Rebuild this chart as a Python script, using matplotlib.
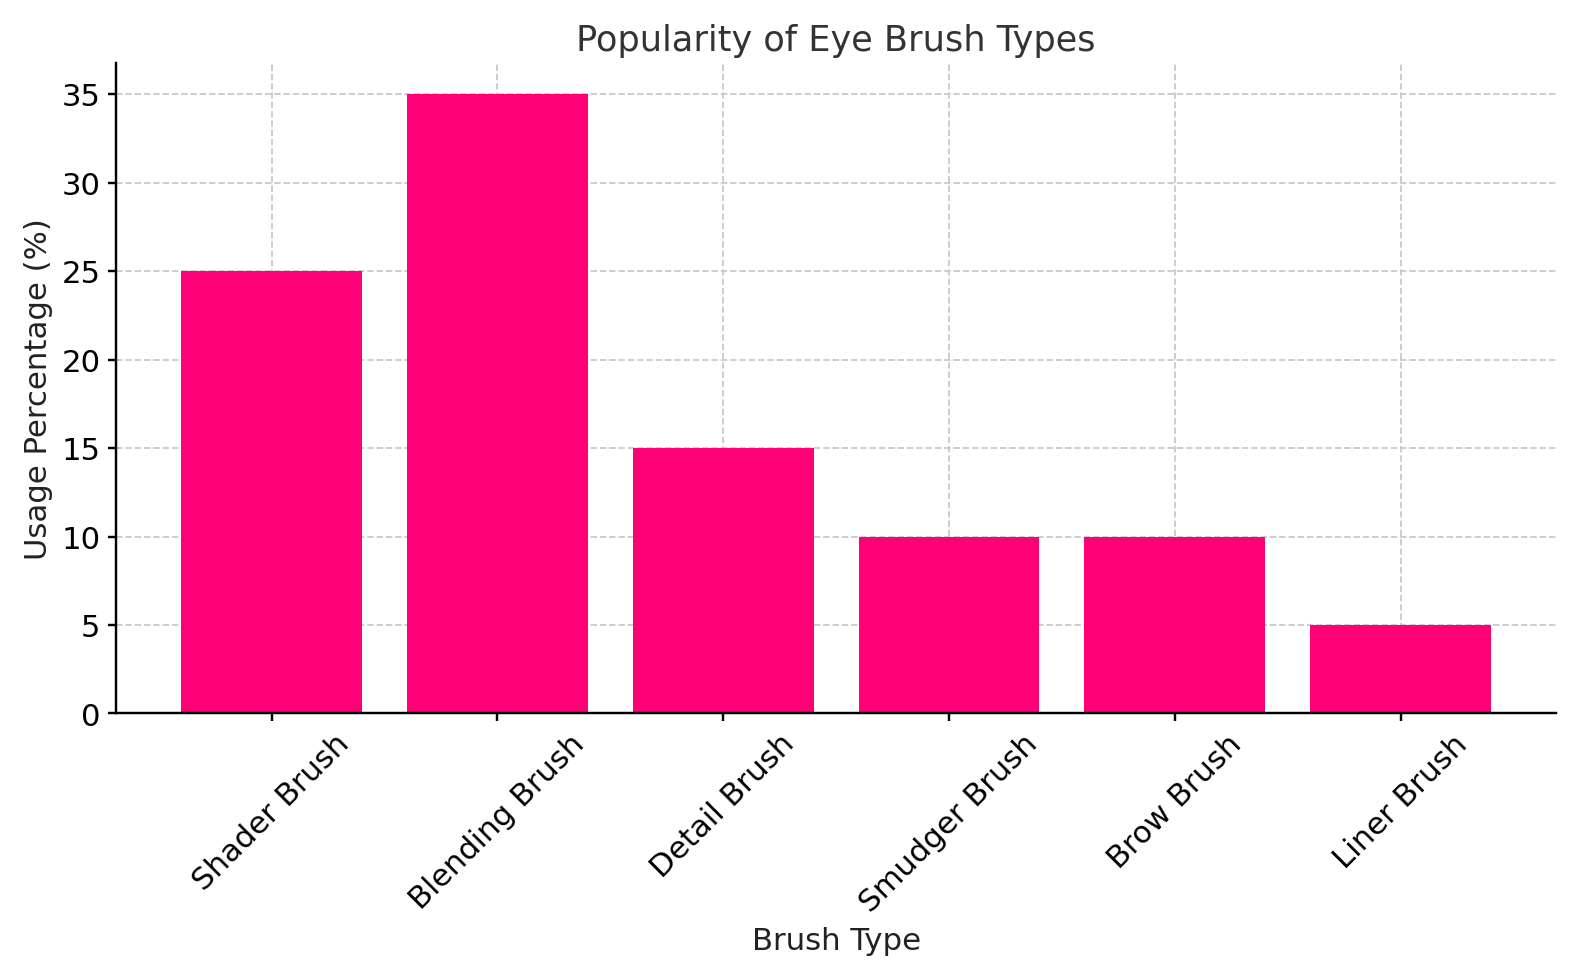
import matplotlib
matplotlib.use("Agg")
import matplotlib.pyplot as plt

brush_types = ["Shader Brush", "Blending Brush", "Detail Brush",
               "Smudger Brush", "Brow Brush", "Liner Brush"]
usage_pct = [25, 35, 15, 10, 10, 5]

fig, ax = plt.subplots(figsize=(10, 6.2), dpi=158)
ax.bar(brush_types, usage_pct, color="#FF0077", zorder=2)

ax.set_title("Popularity of Eye Brush Types", fontsize=16, color="#333333")
ax.set_xlabel("Brush Type", fontsize=14, color="#222222")
ax.set_ylabel("Usage Percentage (%)", fontsize=14, color="#222222")
ax.tick_params(axis="both", labelsize=14, width=1.1)
plt.xticks(rotation=45)

ax.grid(True, linestyle="--", color="#c8c8c8", linewidth=0.8, zorder=0)
ax.spines["top"].set_visible(False)
ax.spines["right"].set_visible(False)
for s in ("left", "bottom"):
    ax.spines[s].set_linewidth(1.1)

plt.tight_layout()
fig.savefig("out.png", dpi=158)
